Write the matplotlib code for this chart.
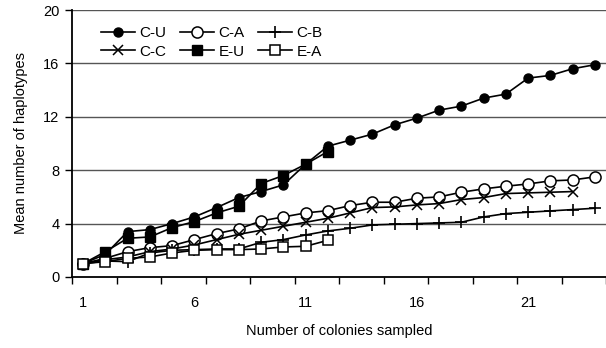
import matplotlib.pyplot as plt
import numpy as np

plt.rcParams['font.family'] = ['Liberation Sans', 'DejaVu Sans']

# mean number of haplotypes per number of colonies sampled
cu = [1.0, 1.7, 3.4, 3.55, 4.0, 4.5, 5.2, 5.95, 6.4, 6.9, 8.45, 9.8, 10.25, 10.7,
      11.4, 11.9, 12.5, 12.8, 13.4, 13.7, 14.9, 15.1, 15.6, 15.9]
ca = [1.0, 1.4, 1.9, 2.2, 2.35, 2.8, 3.25, 3.6, 4.2, 4.5, 4.8, 4.97, 5.35, 5.6,
      5.6, 5.9, 6.0, 6.35, 6.6, 6.8, 6.97, 7.2, 7.27, 7.5]
cb = [1.0, 1.2, 1.15, 1.8, 2.0, 2.05, 2.1, 2.1, 2.6, 2.8, 3.15, 3.45, 3.65, 3.9,
      3.95, 4.0, 4.05, 4.1, 4.5, 4.75, 4.85, 4.95, 5.05, 5.15]
cc = [1.0, 1.3, 1.5, 1.9, 2.1, 2.4, 2.8, 3.2, 3.5, 3.8, 4.1, 4.4, 4.8, 5.2,
      5.25, 5.4, 5.5, 5.8, 5.95, 6.25, 6.3, 6.35, 6.4]
eu = [1.0, 1.9, 2.9, 3.0, 3.7, 4.15, 4.8, 5.3, 7.0, 7.6, 8.45, 9.4]
ea = [1.0, 1.15, 1.4, 1.5, 1.8, 2.0, 2.05, 2.05, 2.1, 2.25, 2.3, 2.75]

x_labels = [1, 6, 11, 16, 21]
y_ticks = [0, 4, 8, 12, 16, 20]


def colonies(series):
    return np.arange(1, len(series) + 1)


fig = plt.figure(figsize=(6.06, 3.48), dpi=100)
ax = fig.add_axes([72 / 606, 71 / 348, 1 - 72 / 606, 267 / 348])

style = dict(color="black", linewidth=1.2)
h_cu, = ax.plot(colonies(cu), cu, marker="o", markersize=6.5, label="C-U", **style)
h_ca, = ax.plot(colonies(ca), ca, marker="o", markersize=8, markerfacecolor="white",
                markeredgewidth=1.1, label="C-A", **style)
h_cb, = ax.plot(colonies(cb), cb, marker="+", markersize=9, markeredgewidth=1.2,
                label="C-B", **style)
h_cc, = ax.plot(colonies(cc), cc, marker="x", markersize=7.5, markeredgewidth=1.1,
                label="C-C", **style)
h_eu, = ax.plot(colonies(eu), eu, marker="s", markersize=6.5, label="E-U", **style)
h_ea, = ax.plot(colonies(ea), ea, marker="s", markersize=7, markerfacecolor="white",
                markeredgewidth=1.1, label="E-A", **style)

ax.set_xlim(0.5, 0.5 + (606 - 71.5) / 22.5)
ax.set_ylim(0, 20)

ax.set_yticks(y_ticks)
ax.set_xticks(x_labels)
ax.set_xticks(np.arange(0.5, 25, 2), minor=True)
ax.tick_params(axis="x", which="major", length=0, pad=14, labelsize=10.5)
ax.tick_params(axis="x", which="minor", length=5, width=1, direction="out")
ax.tick_params(axis="y", length=5, width=1, direction="out", pad=4, labelsize=10.5)

for v in y_ticks[1:]:
    ax.axhline(v, color="#555555", linewidth=1.0, zorder=0.5)

for side in ["top", "right"]:
    ax.spines[side].set_visible(False)
for side in ["left", "bottom"]:
    ax.spines[side].set_linewidth(1.3)
    ax.spines[side].set_color("black")

ax.set_xlabel("Number of colonies sampled", fontsize=10.5, labelpad=10)
ax.set_ylabel("Mean number of haplotypes", fontsize=10.5, labelpad=11)

handles = [h_cu, h_cc, h_ca, h_eu, h_cb, h_ea]
leg = ax.legend(handles=handles, labels=[h.get_label() for h in handles], ncol=3,
                loc="upper left", bbox_to_anchor=(0.035, 0.98), frameon=True,
                fontsize=11, handlelength=2.2, handletextpad=0.3,
                columnspacing=0.9, labelspacing=0.3, borderpad=0.2)
leg.get_frame().set_edgecolor("none")
leg.get_frame().set_facecolor("white")
leg.get_frame().set_alpha(1.0)

fig.savefig("out.png", dpi=100)
